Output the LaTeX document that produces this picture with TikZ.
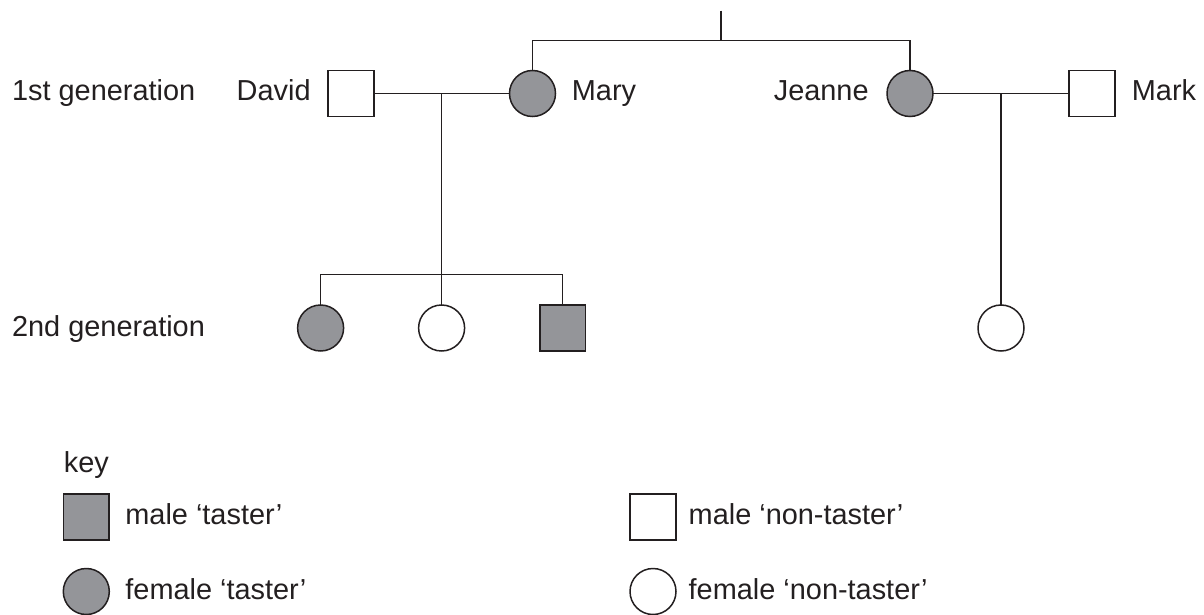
\documentclass[tikz,border=0pt]{standalone}
\usepackage{fontspec}
\setmainfont{Liberation Sans}
\definecolor{taster}{RGB}{148,149,153}
\definecolor{ink}{RGB}{35,31,32}
\begin{document}
\begin{tikzpicture}[x=0.5bp,y=-0.5bp,
  every node/.style={font=\fontsize{14.45bp}{17bp}\selectfont, text=ink},
  person/.style={draw=ink, line width=0.75bp, inner sep=0pt, outer sep=0pt},
  male/.style={person, rectangle, minimum size=22.8bp},
  female/.style={person, circle, minimum size=23bp},
  tast/.style={fill=taster},
  non/.style={fill=white},
  link/.style={draw=ink, line width=0.75bp},
  lbl/.style={inner sep=0pt, anchor=base west},
  lblr/.style={inner sep=0pt, anchor=base east}]
\useasboundingbox (0,0) rectangle (1204,614);

% first generation
\node[male,non] (david) at (351,93.5) {};
\node[female,tast] (mary) at (532.5,93.5) {};
\node[female,tast] (jeanne) at (910,93.5) {};
\node[male,non] (mark) at (1092,93.5) {};

% second generation
\node[female,tast] (ch1) at (320.6,328) {};
\node[female,non] (ch2) at (441.6,328) {};
\node[male,tast] (ch3) at (562.7,328) {};
\node[female,non] (ch4) at (1001,328) {};

% coordinates
\coordinate (top) at (721,10.7);
\coordinate (topj) at (721,40.7);
\coordinate (m1) at (441.6,93.5);
\coordinate (c1) at (441.6,274.7);
\coordinate (m2) at (1001,93.5);

% connectors
\draw[link] (top) -- (topj);
\draw[link] (mary.north) |- (topj) -| (jeanne.north);
\draw[link] (david.east) -- (mary.west);
\draw[link] (jeanne.east) -- (mark.west);
\draw[link] (m1) -- (ch2.north);
\draw[link] (ch1.north) |- (c1) -| (ch3.north);
\draw[link] (m2) -- (ch4.north);

% labels
\node[lbl] (g1) at (11.7,101) {1st generation};
\node[lbl] (g2) at (11.7,336) {2nd generation};
\node[lblr] (ldavid) at (311,101) {David};
\node[lbl] (lmary) at (571.5,101) {Mary};
\node[lblr] (ljeanne) at (869,101) {Jeanne};
\node[lbl] (lmark) at (1131.5,101) {Mark};

% key
\node[lbl] (key) at (63.5,472.3) {key};
\node[male,tast] (k1) at (86.3,517) {};
\node[lbl] (k1t) at (125,524.5) {male ‘taster’};
\node[female,tast] (k2) at (86.3,591.5) {};
\node[lbl] (k2t) at (125,599) {female ‘taster’};
\node[male,non] (k3) at (653,517) {};
\node[lbl] (k3t) at (688.3,524.5) {male ‘non-taster’};
\node[female,non] (k4) at (653,591.5) {};
\node[lbl] (k4t) at (688.3,599) {female ‘non-taster’};
\end{tikzpicture}
\end{document}
